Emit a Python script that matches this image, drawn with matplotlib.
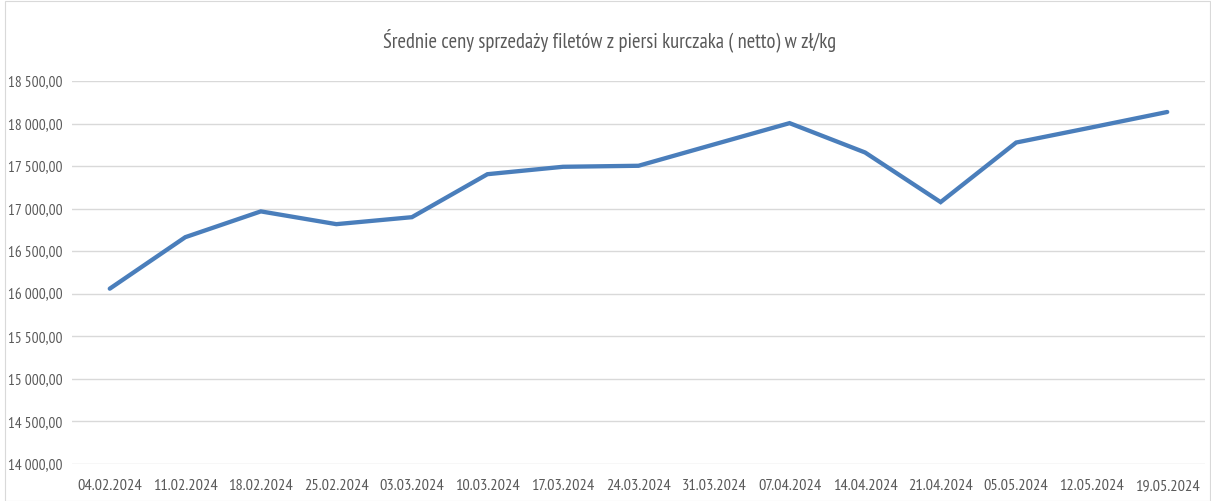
"""Average selling prices of chicken breast fillets, Excel-style line chart."""

import matplotlib
matplotlib.use("Agg")
import matplotlib.pyplot as plt
from matplotlib.patches import Rectangle
from matplotlib.ticker import FuncFormatter, MultipleLocator

dates = ["04.02.2024", "11.02.2024", "18.02.2024", "25.02.2024", "03.03.2024",
         "10.03.2024", "17.03.2024", "24.03.2024", "31.03.2024", "07.04.2024",
         "14.04.2024", "21.04.2024", "05.05.2024", "12.05.2024", "19.05.2024"]
prices = [16060, 16665, 16968, 16818, 16900,
          17405, 17492, 17504, 17755, 18005,
          17660, 17077, 17777, 17955, 18136]

TITLE = "Średnie ceny sprzedaży filetów z piersi kurczaka ( netto) w zł/kg"
TEXT_COLOR = "#595959"
LINE_COLOR = "#4a7ebb"
GRID_COLOR = "#d9d9d9"

plt.rcParams["font.family"] = ["PT Sans Narrow", "DejaVu Sans"]


def _pl_number(v, _pos=None) -> str:
    # Polish format: thin space as thousands separator, comma as decimal mark
    s = f"{v:,.2f}"
    return s.replace(",", "\u2009").replace(".", ",")


fig = plt.figure(figsize=(12.11, 5.01), dpi=100)
fig.patches.append(Rectangle((0.004, 0.0), 0.995, 0.998, transform=fig.transFigure,
                             fill=False, edgecolor="#d9d9d9", linewidth=0.8))
ax = fig.add_axes([72 / 1211, 1 - 464 / 501, (1205 - 72) / 1211, (464 - 81) / 501])

x = range(len(dates))
ax.plot(x, prices, color=LINE_COLOR, linewidth=3.1, solid_capstyle="round",
        solid_joinstyle="miter")

ax.set_xlim(-0.5, len(dates) - 0.5)
ax.set_ylim(14000, 18500)
ax.yaxis.set_major_locator(MultipleLocator(500))
ax.yaxis.set_major_formatter(FuncFormatter(_pl_number))
ax.set_xticks(list(x))
ax.set_xticklabels(dates)

ax.grid(True, axis="y", color=GRID_COLOR, linewidth=1.0)
ax.set_axisbelow(True)
for spine in ax.spines.values():
    spine.set_visible(False)
ax.tick_params(axis="both", length=0, colors=TEXT_COLOR)
ax.tick_params(axis="x", pad=11, labelsize=11.8)
ax.tick_params(axis="y", pad=7, labelsize=11.0)

fig.text(610 / 1211, 1 - 40 / 501, TITLE, ha="center", va="center",
         fontsize=14.8, color=TEXT_COLOR)

fig.savefig("out.png", dpi=100)
plt.close(fig)
